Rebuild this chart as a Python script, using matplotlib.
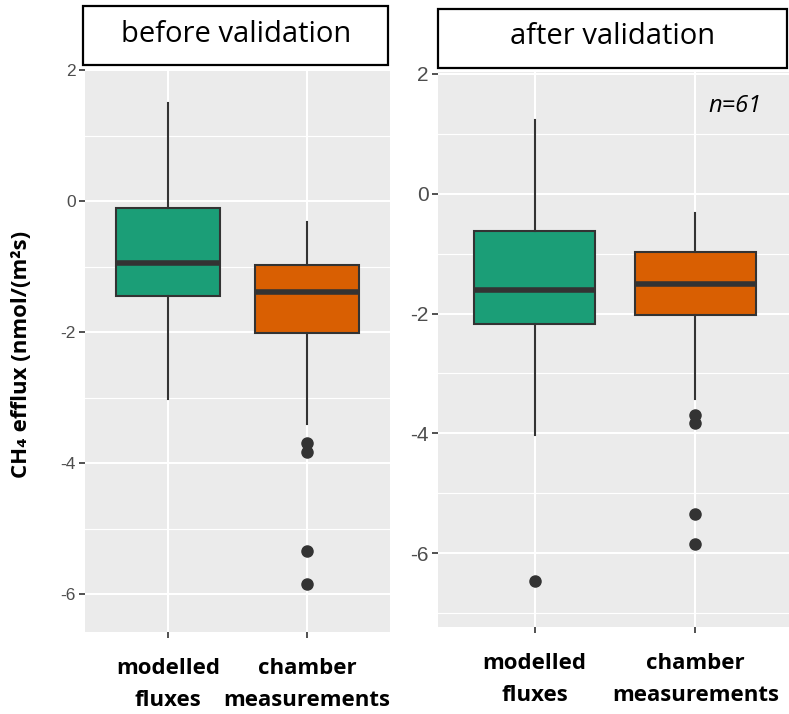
import matplotlib
matplotlib.use("Agg")
import matplotlib.pyplot as plt
from matplotlib.patches import Rectangle
import numpy as np

# box statistics per group (five-number summary + outliers)
groups = ["modelled\nfluxes", "chamber\nmeasurements"]

before_whislo = [-3.02, -3.40]
before_q1 = [-1.45, -2.01]
before_med = [-0.95, -1.39]
before_q3 = [-0.10, -0.98]
before_whishi = [1.49, -0.32]
before_fliers = [[], [-3.69, -3.83, -5.35, -5.85]]

after_whislo = [-4.03, -3.42]
after_q1 = [-2.17, -2.03]
after_med = [-1.60, -1.50]
after_q3 = [-0.62, -0.98]
after_whishi = [1.23, -0.32]
after_fliers = [[-6.47], [-3.69, -3.83, -5.35, -5.85]]

fill_colors = ["#1B9E77", "#D95F02"]
edge = "#333333"
W, H = 789, 714


def make_stats(lo, q1, med, q3, hi, fl):
    return [dict(label=g, whislo=a, q1=b, med=c, q3=d, whishi=e, fliers=f)
            for g, a, b, c, d, e, f in zip(groups, lo, q1, med, q3, hi, fl)]


def draw_panel(ax, stats, ylim, ytick_size):
    ax.set_facecolor("#EBEBEB")
    for s in ax.spines.values():
        s.set_visible(False)
    ax.set_yticks([-6, -4, -2, 0, 2])
    ax.set_yticks(np.arange(-7, 2, 2), minor=True)
    ax.grid(True, which="major", color="white", lw=1.5)
    ax.grid(True, which="minor", axis="y", color="white", lw=0.8)
    ax.set_axisbelow(True)

    bp = ax.bxp(stats, positions=[1, 2], widths=0.75, patch_artist=True,
                showcaps=False,
                boxprops=dict(edgecolor=edge, lw=1.5),
                whiskerprops=dict(color=edge, lw=1.5),
                medianprops=dict(color=edge, lw=4, solid_capstyle="butt"),
                flierprops=dict(marker="o", markerfacecolor=edge,
                                markeredgecolor=edge, markersize=8))
    for patch, c in zip(bp["boxes"], fill_colors):
        patch.set_facecolor(c)
    for med in bp["medians"]:
        med.set_zorder(3)

    # limits last, the tick setters above would widen them
    ax.set_xlim(0.4, 2.6)
    ax.set_ylim(*ylim)

    ax.tick_params(axis="both", which="major", color=edge, width=1.2, length=4.5)
    ax.tick_params(axis="y", which="minor", length=0)
    ax.tick_params(axis="y", labelsize=ytick_size, labelcolor="#4D4D4D", pad=2)
    ax.tick_params(axis="x", pad=14)
    ax.set_yticklabels(["-6", "-4", "-2", "0", "2"], fontfamily="Liberation Sans")
    ax.set_xticklabels(groups, fontsize=16, fontweight="bold",
                       fontfamily="Open Sans", linespacing=1.7)


def strip(x0, y0, x1, y1, label, cx, cy):
    fig.patches.append(Rectangle((x0 / W, 1 - y1 / H), (x1 - x0) / W, (y1 - y0) / H,
                                 transform=fig.transFigure, facecolor="white",
                                 edgecolor="black", lw=1.6))
    fig.text(cx / W, 1 - cy / H, label, ha="center", va="center",
             fontsize=21, fontfamily="Open Sans")


fig = plt.figure(figsize=(W / 100, H / 100), dpi=100)

ax1 = fig.add_axes([85 / W, 1 - 632 / H, 305 / W, 562 / H])
draw_panel(ax1, make_stats(before_whislo, before_q1, before_med, before_q3,
                           before_whishi, before_fliers), (-6.58, 2.0), 12.5)

ax2 = fig.add_axes([438 / W, 1 - 627 / H, 354 / W, 555 / H])
draw_panel(ax2, make_stats(after_whislo, after_q1, after_med, after_q3,
                           after_whishi, after_fliers), (-7.23, 2.03), 15)
ax2.text(2.245, 1.47, "n=61", fontsize=17, style="italic",
         fontfamily="Open Sans", ha="center", va="center")

strip(83, 6, 388, 65, "before validation", 236, 34)
strip(438, 9, 787, 68, "after validation", 613, 37)

fig.text(22 / W, 1 - 354 / H, "CH\u2084 efflux (nmol/(m\u00b2s)", rotation=90,
         ha="center", va="center", fontsize=16, fontweight="bold",
         family=["Open Sans", "DejaVu Sans"])

fig.savefig("out.png", dpi=100)
